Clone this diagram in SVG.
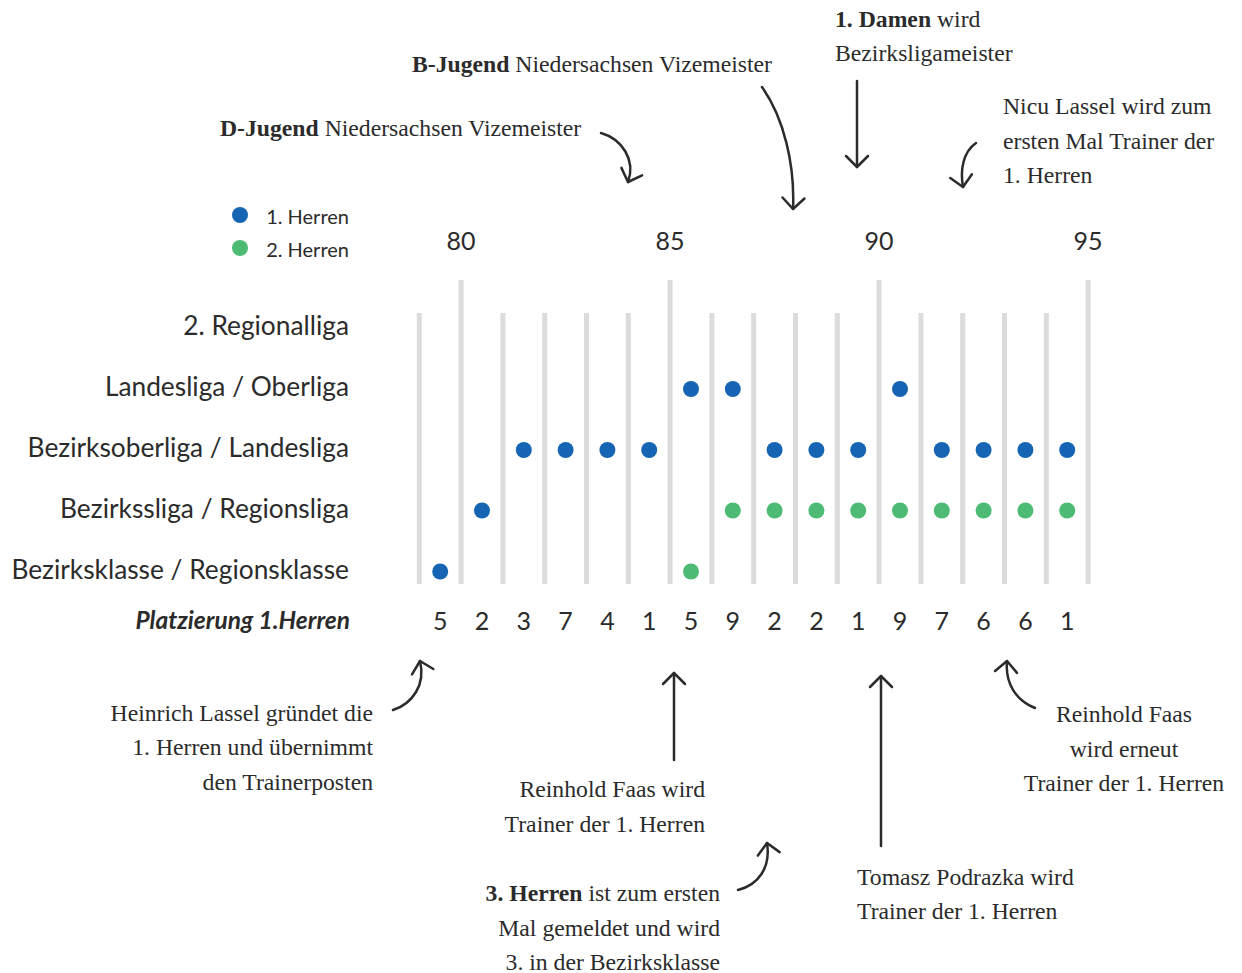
<svg xmlns="http://www.w3.org/2000/svg" width="1242" height="973" viewBox="0 0 1242 973">
<style>
.bg{fill:#ffffff}
.sans{font-family:Lato,"Noto Sans",sans-serif;fill:#2b2b2b}
.cat{font-size:26.3px;text-anchor:end}
.num{font-size:25px;text-anchor:middle}
.year{font-size:25px;text-anchor:middle}
.leg{font-size:20px;text-anchor:end}
.plc{font-size:24.5px;font-weight:bold;font-style:italic;text-anchor:end}
.serif{font-family:"Liberation Serif",serif;font-size:23.7px;fill:#2b2b2b}
.b{font-weight:bold}
.grid{stroke:#dcdcdc;stroke-width:5}
.h1{fill:#1565b4}
.h2{fill:#4dbb74}
.arr{fill:none;stroke:#2b2b2b;stroke-width:2.5;stroke-linecap:round;marker-end:url(#ah)}
</style>
<defs>
<marker id="ah" markerUnits="userSpaceOnUse" markerWidth="30" markerHeight="30" viewBox="-15 -15 30 30" refX="0" refY="0" orient="auto">
<path d="M-11,-11 L0,0 L-11,11" fill="none" stroke="#2b2b2b" stroke-width="2.5" stroke-linecap="round" stroke-linejoin="round"/>
</marker>
</defs>
<rect class="bg" x="0" y="0" width="1242" height="973"/>

<g id="grid">
<line class="grid" x1="419.3" y1="313" x2="419.3" y2="584"/>
<line class="grid" x1="461.1" y1="280" x2="461.1" y2="584"/>
<line class="grid" x1="502.9" y1="313" x2="502.9" y2="584"/>
<line class="grid" x1="544.7" y1="313" x2="544.7" y2="584"/>
<line class="grid" x1="586.5" y1="313" x2="586.5" y2="584"/>
<line class="grid" x1="628.3" y1="313" x2="628.3" y2="584"/>
<line class="grid" x1="670.1" y1="280" x2="670.1" y2="584"/>
<line class="grid" x1="711.9" y1="313" x2="711.9" y2="584"/>
<line class="grid" x1="753.7" y1="313" x2="753.7" y2="584"/>
<line class="grid" x1="795.5" y1="313" x2="795.5" y2="584"/>
<line class="grid" x1="837.3" y1="313" x2="837.3" y2="584"/>
<line class="grid" x1="879.1" y1="280" x2="879.1" y2="584"/>
<line class="grid" x1="920.9" y1="313" x2="920.9" y2="584"/>
<line class="grid" x1="962.7" y1="313" x2="962.7" y2="584"/>
<line class="grid" x1="1004.5" y1="313" x2="1004.5" y2="584"/>
<line class="grid" x1="1046.3" y1="313" x2="1046.3" y2="584"/>
<line class="grid" x1="1088.1" y1="280" x2="1088.1" y2="584"/>
</g>

<g id="years" class="sans">
<text class="year" x="461" y="250">80</text>
<text class="year" x="670" y="250">85</text>
<text class="year" x="879" y="250">90</text>
<text class="year" x="1088" y="250">95</text>
</g>

<g id="legend" class="sans">
<circle class="h1" cx="240" cy="215" r="8"/>
<text class="leg" x="349" y="224">1. Herren</text>
<circle class="h2" cx="240" cy="248" r="8"/>
<text class="leg" x="349" y="257">2. Herren</text>
</g>

<g id="categories" class="sans">
<text class="cat" x="349" y="335">2. Regionalliga</text>
<text class="cat" x="349" y="396">Landesliga / Oberliga</text>
<text class="cat" x="349" y="457">Bezirksoberliga / Landesliga</text>
<text class="cat" x="349" y="518">Bezirkssliga / Regionsliga</text>
<text class="cat" x="349" y="579">Bezirksklasse / Regionsklasse</text>
<text class="plc" x="350" y="629">Platzierung 1.Herren</text>
</g>

<g id="herren1">
<circle class="h1" cx="440.2" cy="571.5" r="8"/>
<circle class="h1" cx="482" cy="510.5" r="8"/>
<circle class="h1" cx="523.8" cy="450" r="8"/>
<circle class="h1" cx="565.6" cy="450" r="8"/>
<circle class="h1" cx="607.4" cy="450" r="8"/>
<circle class="h1" cx="649.2" cy="450" r="8"/>
<circle class="h1" cx="691" cy="389" r="8"/>
<circle class="h1" cx="732.8" cy="389" r="8"/>
<circle class="h1" cx="774.6" cy="450" r="8"/>
<circle class="h1" cx="816.4" cy="450" r="8"/>
<circle class="h1" cx="858.2" cy="450" r="8"/>
<circle class="h1" cx="900" cy="389" r="8"/>
<circle class="h1" cx="941.8" cy="450" r="8"/>
<circle class="h1" cx="983.6" cy="450" r="8"/>
<circle class="h1" cx="1025.4" cy="450" r="8"/>
<circle class="h1" cx="1067.2" cy="450" r="8"/>
</g>

<g id="herren2">
<circle class="h2" cx="691" cy="571.5" r="8"/>
<circle class="h2" cx="732.8" cy="510.5" r="8"/>
<circle class="h2" cx="774.6" cy="510.5" r="8"/>
<circle class="h2" cx="816.4" cy="510.5" r="8"/>
<circle class="h2" cx="858.2" cy="510.5" r="8"/>
<circle class="h2" cx="900" cy="510.5" r="8"/>
<circle class="h2" cx="941.8" cy="510.5" r="8"/>
<circle class="h2" cx="983.6" cy="510.5" r="8"/>
<circle class="h2" cx="1025.4" cy="510.5" r="8"/>
<circle class="h2" cx="1067.2" cy="510.5" r="8"/>
</g>

<g id="placements" class="sans">
<text class="num" x="440.2" y="630">5</text>
<text class="num" x="482" y="630">2</text>
<text class="num" x="523.8" y="630">3</text>
<text class="num" x="565.6" y="630">7</text>
<text class="num" x="607.4" y="630">4</text>
<text class="num" x="649.2" y="630">1</text>
<text class="num" x="691" y="630">5</text>
<text class="num" x="732.8" y="630">9</text>
<text class="num" x="774.6" y="630">2</text>
<text class="num" x="816.4" y="630">2</text>
<text class="num" x="858.2" y="630">1</text>
<text class="num" x="900" y="630">9</text>
<text class="num" x="941.8" y="630">7</text>
<text class="num" x="983.6" y="630">6</text>
<text class="num" x="1025.4" y="630">6</text>
<text class="num" x="1067.2" y="630">1</text>
</g>

<g id="note-djugend" class="serif">
<text x="220" y="136"><tspan class="b">D-Jugend</tspan> Niedersachsen Vizemeister</text>
</g>
<g id="note-bjugend" class="serif">
<text x="412" y="72"><tspan class="b">B-Jugend</tspan> Niedersachsen Vizemeister</text>
</g>
<g id="note-damen" class="serif">
<text x="835" y="27"><tspan class="b">1. Damen</tspan> wird</text>
<text x="835" y="61">Bezirksligameister</text>
</g>
<g id="note-nicu" class="serif">
<text x="1003" y="114">Nicu Lassel wird zum</text>
<text x="1003" y="149">ersten Mal Trainer der</text>
<text x="1003" y="183">1. Herren</text>
</g>
<g id="note-heinrich" class="serif" text-anchor="end">
<text x="373" y="721">Heinrich Lassel gründet die</text>
<text x="373" y="755">1. Herren und übernimmt</text>
<text x="373" y="790">den Trainerposten</text>
</g>
<g id="note-faas1" class="serif" text-anchor="end">
<text x="705" y="797">Reinhold Faas wird</text>
<text x="705" y="832">Trainer der 1. Herren</text>
</g>
<g id="note-herren3" class="serif" text-anchor="end">
<text x="720" y="901"><tspan class="b">3. Herren</tspan> ist zum ersten</text>
<text x="720" y="936">Mal gemeldet und wird</text>
<text x="720" y="970">3. in der Bezirksklasse</text>
</g>
<g id="note-tomasz" class="serif">
<text x="857" y="885">Tomasz Podrazka wird</text>
<text x="857" y="919">Trainer der 1. Herren</text>
</g>
<g id="note-faas2" class="serif" text-anchor="middle">
<text x="1124" y="722">Reinhold Faas</text>
<text x="1124" y="757">wird erneut</text>
<text x="1124" y="791">Trainer der 1. Herren</text>
</g>

<g id="connectors">
<path class="arr" d="M601,133 C622,139 636,160 628,182"/>
<path class="arr" d="M762,87 C784,118 795,165 793,209"/>
<path class="arr" d="M857,81 L857,167"/>
<path class="arr" d="M976,143 C963,152 960,170 963,187"/>
<path class="arr" d="M393,710 C412,704 426,685 420,661"/>
<path class="arr" d="M674,760 L674,673"/>
<path class="arr" d="M738,890 C758,885 771,868 767,843"/>
<path class="arr" d="M881,846 L881,676"/>
<path class="arr" d="M1035,708 C1016,700 1005,684 1007,661"/>
</g>
</svg>
